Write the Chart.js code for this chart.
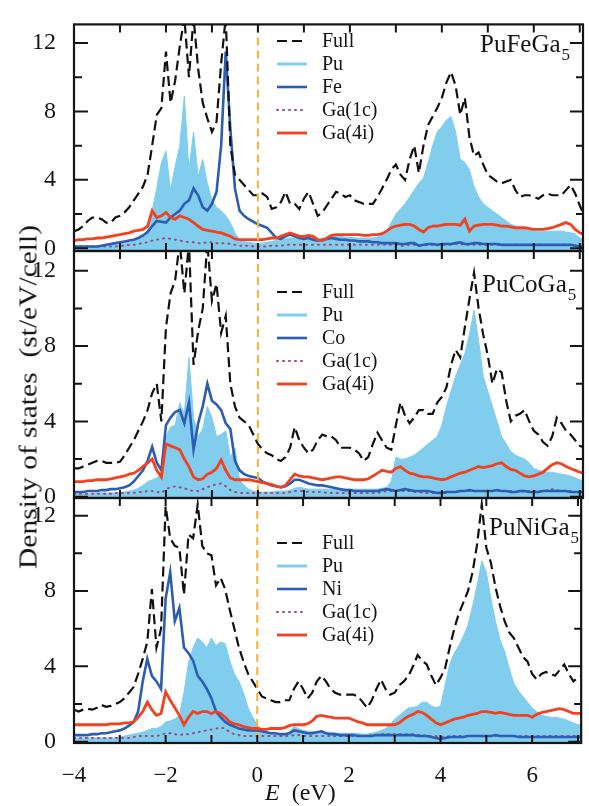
<!DOCTYPE html>
<html>
<head>
<meta charset="utf-8">
<script src="https://cdn.jsdelivr.net/npm/chart.js@4.4.0/dist/chart.umd.min.js"></script>
<style>
  html, body { margin: 0; padding: 0; background: #fff; }
  #wrap { position: relative; width: 589px; height: 806px; overflow: hidden; }
  canvas { position: absolute; left: 0; top: 0; }
  .lbl { position: absolute; font-family: "Liberation Serif", serif; color: #151515; white-space: pre; line-height: 1; }
  #ytitle { left: 28px; top: 397px; font-size: 25px; transform: translate(-50%, -50%) rotate(-90deg) scale(1.18, 1); }
  #xtitle { left: 265px; top: 780px; font-size: 24px; line-height: 24px; }
</style>
</head>
<body>
<div id="wrap">
  <canvas id="cFe" width="589" height="806"></canvas>
  <canvas id="cCo" width="589" height="806"></canvas>
  <canvas id="cNi" width="589" height="806"></canvas>
  <div class="lbl" id="ytitle">Density of states  (st/eV/cell)</div>
  <div class="lbl" id="xtitle"><i>E</i>  (eV)</div>
</div>
<script>
// energy grid (eV)
const energy = [
  -4.0, -3.9, -3.8, -3.7, -3.6, -3.5, -3.4, -3.3, -3.2, -3.1,
  -3.0, -2.9, -2.8, -2.7, -2.6, -2.5, -2.4, -2.3, -2.2, -2.1,
  -2.0, -1.9, -1.8, -1.7, -1.6, -1.5, -1.4, -1.3, -1.2, -1.1,
  -1.0, -0.9, -0.8, -0.7, -0.6, -0.5, -0.4, -0.3, -0.2, -0.1,
  0.0, 0.1, 0.2, 0.3, 0.4, 0.5, 0.6, 0.7, 0.8, 0.9,
  1.0, 1.1, 1.2, 1.3, 1.4, 1.5, 1.6, 1.7, 1.8, 1.9,
  2.0, 2.1, 2.2, 2.3, 2.4, 2.5, 2.6, 2.7, 2.8, 2.9,
  3.0, 3.1, 3.2, 3.3, 3.4, 3.5, 3.6, 3.7, 3.8, 3.9,
  4.0, 4.1, 4.2, 4.3, 4.4, 4.5, 4.6, 4.7, 4.8, 4.9,
  5.0, 5.1, 5.2, 5.3, 5.4, 5.5, 5.6, 5.7, 5.8, 5.9,
  6.0, 6.1, 6.2, 6.3, 6.4, 6.5, 6.6, 6.7, 6.8, 6.9,
  7.0, 7.1
];

// PuFeGa5
const feFull = [
  1.0, 1.1, 1.3, 1.6, 1.8, 1.8, 1.7, 1.5, 1.5, 1.8,
  1.9, 2.1, 2.4, 2.8, 3.2, 3.6, 4.3, 6.0, 7.8, 8.2,
  11.5, 8.5, 9.8, 11.8, 13.5, 10.0, 13.5, 10.5, 8.5, 7.6,
  6.8, 7.4, 10.8, 13.5, 6.0, 4.3, 4.0, 3.7, 3.4, 3.1,
  3.1, 3.2, 3.0, 2.3, 2.4, 2.7, 3.3, 2.6, 2.6, 2.3,
  2.9, 3.3, 2.6, 1.9, 2.1, 2.5, 2.9, 3.3, 3.2, 3.0,
  3.1, 2.8, 2.7, 2.6, 2.6, 2.6, 3.0, 3.5, 4.0, 4.6,
  4.9, 4.3, 4.0, 5.2, 6.0, 4.4, 6.0, 7.2, 7.7, 8.2,
  8.8, 9.7, 10.3, 9.5, 7.8, 8.8, 6.5, 5.4, 5.6, 4.9,
  4.3, 4.1, 3.9, 3.8, 3.9, 4.0, 3.4, 3.0, 3.1, 3.1,
  3.0, 2.9, 3.1, 3.2, 3.1, 3.1, 3.1, 3.4, 3.7, 3.2,
  2.5, 1.9
];
const fePu = [
  0.1, 0.1, 0.1, 0.1, 0.1, 0.1, 0.15, 0.15, 0.2, 0.2,
  0.25, 0.3, 0.35, 0.4, 0.5, 0.7, 1.0, 2.2, 3.5, 5.0,
  5.7, 3.4, 4.8, 6.0, 8.9, 4.6, 6.8, 4.2, 5.2, 3.8,
  2.8, 2.4, 2.2, 1.9, 1.5, 0.9, 0.5, 0.4, 0.35, 0.3,
  0.3, 0.3, 0.35, 0.4, 0.45, 0.5, 0.55, 0.6, 0.6, 0.65,
  0.7, 0.7, 0.65, 0.5, 0.55, 0.6, 0.65, 0.7, 0.7, 0.65,
  0.65, 0.6, 0.6, 0.6, 0.6, 0.6, 0.65, 0.8, 1.0, 1.5,
  2.0, 2.3, 2.6, 3.0, 3.4, 3.8, 4.1, 5.0, 6.0, 6.8,
  7.1, 7.5, 7.7, 6.8, 5.2, 5.0, 4.6, 3.6, 3.0, 2.6,
  2.4, 2.2, 2.0, 1.8, 1.6, 1.4, 1.3, 1.2, 1.2, 1.1,
  1.0, 1.0, 1.0, 1.0, 1.0, 1.0, 1.0, 0.95, 0.9, 0.85,
  0.6, 0.5
];
const feFe = [
  0.1, 0.1, 0.1, 0.1, 0.1, 0.1, 0.15, 0.2, 0.25, 0.3,
  0.35, 0.4, 0.45, 0.5, 0.6, 0.75, 0.95, 1.3, 1.6, 1.55,
  1.5, 1.8, 2.0, 2.2, 2.6, 2.8, 3.5, 3.1, 2.4, 2.2,
  2.6, 3.3, 6.0, 11.5, 7.0, 3.5, 2.2, 1.9, 1.7, 1.55,
  1.4, 1.3, 1.2, 0.9, 0.6, 0.55, 0.7, 0.8, 0.7, 0.6,
  0.55, 0.6, 0.5, 0.45, 0.5, 0.55, 0.6, 0.55, 0.5, 0.5,
  0.45, 0.45, 0.4, 0.4, 0.4, 0.35, 0.35, 0.3, 0.3, 0.3,
  0.3, 0.25, 0.25, 0.3, 0.3, 0.15, 0.2, 0.25, 0.25, 0.2,
  0.25, 0.25, 0.25, 0.3, 0.35, 0.25, 0.25, 0.3, 0.3, 0.25,
  0.25, 0.25, 0.25, 0.2, 0.2, 0.2, 0.2, 0.2, 0.2, 0.2,
  0.2, 0.2, 0.2, 0.2, 0.2, 0.2, 0.2, 0.2, 0.2, 0.15,
  0.1, 0.1
];
const feGa1c = [
  0.1, 0.1, 0.1, 0.1, 0.1, 0.1, 0.1, 0.1, 0.1, 0.1,
  0.15, 0.15, 0.2, 0.2, 0.25, 0.3, 0.35, 0.45, 0.5, 0.55,
  0.6, 0.55, 0.5, 0.45, 0.4, 0.35, 0.35, 0.3, 0.3, 0.35,
  0.35, 0.3, 0.3, 0.3, 0.25, 0.2, 0.15, 0.15, 0.15, 0.1,
  0.1, 0.1, 0.1, 0.15, 0.15, 0.15, 0.2, 0.2, 0.2, 0.2,
  0.2, 0.2, 0.2, 0.2, 0.2, 0.2, 0.2, 0.2, 0.2, 0.2,
  0.2, 0.2, 0.2, 0.2, 0.2, 0.2, 0.2, 0.2, 0.2, 0.2,
  0.2, 0.15, 0.15, 0.2, 0.2, 0.15, 0.15, 0.2, 0.2, 0.2,
  0.2, 0.2, 0.2, 0.25, 0.25, 0.2, 0.2, 0.2, 0.2, 0.2,
  0.2, 0.2, 0.2, 0.2, 0.2, 0.2, 0.2, 0.2, 0.2, 0.2,
  0.2, 0.2, 0.2, 0.2, 0.2, 0.2, 0.2, 0.2, 0.2, 0.15,
  0.1, 0.1
];
const feGa4i = [
  0.45, 0.5, 0.5, 0.55, 0.55, 0.6, 0.6, 0.65, 0.7, 0.75,
  0.8, 0.85, 0.9, 1.0, 1.05, 1.1, 1.3, 2.2, 1.8, 1.9,
  2.1, 1.8, 1.7, 1.9, 1.8, 1.7, 1.5, 1.3, 1.1, 1.05,
  1.0, 0.95, 0.9, 0.8, 0.7, 0.55, 0.5, 0.5, 0.5, 0.5,
  0.5, 0.5, 0.55, 0.6, 0.6, 0.7, 0.8, 0.9, 0.8, 0.7,
  0.7, 0.75, 0.7, 0.5, 0.45, 0.6, 0.75, 0.8, 0.8, 0.8,
  0.8, 0.8, 0.8, 0.75, 0.75, 0.8, 0.8, 0.85, 1.0, 1.2,
  1.3, 1.35, 1.4, 1.4, 1.3, 1.1, 0.95, 1.2, 1.3, 1.3,
  1.35, 1.4, 1.4, 1.4, 1.35, 1.7, 1.0, 1.3, 1.35, 1.4,
  1.4, 1.4, 1.35, 1.3, 1.3, 1.25, 1.2, 1.2, 1.2, 1.15,
  1.1, 1.1, 1.1, 1.15, 1.2, 1.3, 1.4, 1.5, 1.4, 1.1,
  0.9, 0.8
];

// PuCoGa5
const coFull = [
  1.5, 1.5, 1.6, 1.7, 1.8, 1.9, 1.9, 1.8, 1.8, 1.8,
  1.85, 2.2, 2.6, 3.0, 3.5, 4.0, 4.6, 5.5, 6.0, 4.0,
  9.0, 10.8, 11.5, 13.5, 10.8, 13.5, 7.0, 8.8, 10.0, 13.5,
  10.4, 11.3, 8.7, 9.6, 6.0, 4.8, 4.2, 4.0, 3.8, 3.3,
  2.8, 2.5, 2.3, 2.2, 2.0, 1.9, 2.1, 2.6, 3.7, 3.0,
  2.6, 2.3, 2.5, 3.0, 3.3, 3.2, 3.2, 3.0, 2.6, 2.6,
  2.6, 2.5, 2.3, 1.9, 2.1, 2.8, 3.4, 3.0, 2.6, 2.5,
  3.8, 5.0, 4.3, 3.9, 4.2, 4.6, 4.6, 4.4, 4.4, 5.0,
  5.3, 5.8, 7.0, 7.8, 7.4, 9.0, 10.5, 11.9, 10.0, 8.6,
  7.5, 6.0, 6.8, 6.6, 5.1, 4.0, 4.3, 4.4, 4.6, 4.0,
  3.5, 3.3, 2.9, 2.7, 3.2, 4.2, 3.9, 3.5, 3.3, 3.0,
  2.7, 2.6
];
const coPu = [
  0.15, 0.15, 0.15, 0.15, 0.15, 0.2, 0.2, 0.2, 0.2, 0.2,
  0.2, 0.25, 0.3, 0.35, 0.45, 0.6, 0.8, 0.9, 1.0, 1.2,
  3.2, 3.7, 3.8, 5.0, 4.4, 7.4, 4.2, 3.2, 3.6, 4.8,
  4.2, 3.2, 3.3, 3.5, 2.1, 2.6, 0.9, 0.6, 0.4, 0.3,
  0.25, 0.25, 0.25, 0.25, 0.3, 0.3, 0.3, 0.35, 0.45, 0.5,
  0.45, 0.4, 0.4, 0.4, 0.4, 0.4, 0.4, 0.4, 0.4, 0.4,
  0.4, 0.4, 0.4, 0.4, 0.4, 0.4, 0.4, 0.45, 0.5, 0.8,
  2.1, 2.0, 2.0, 2.1, 2.2, 2.4, 2.6, 2.8, 3.0, 3.2,
  3.8, 4.8, 5.6, 6.4, 7.0, 7.6, 8.6, 9.9, 8.3, 6.4,
  5.6, 4.8, 4.0, 3.2, 2.8, 2.4, 2.2, 2.1, 2.0, 1.8,
  1.5, 1.4, 1.35, 1.3, 1.3, 1.25, 1.2, 1.15, 1.1, 1.0,
  0.9, 0.8
];
const coCo = [
  0.25, 0.25, 0.25, 0.3, 0.3, 0.3, 0.35, 0.35, 0.4, 0.4,
  0.45, 0.5, 0.6, 0.8, 1.1, 1.4, 1.9, 2.65, 1.8, 1.4,
  3.8, 4.2, 4.5, 4.6, 3.9, 5.0, 2.5, 3.9, 4.8, 6.0,
  5.1, 4.9, 4.6, 3.9, 3.6, 1.9, 1.4, 1.2, 1.1, 1.05,
  1.0, 0.8, 0.7, 0.6, 0.55, 0.5, 0.55, 0.7, 0.9, 0.9,
  0.8, 0.7, 0.65, 0.6, 0.6, 0.55, 0.5, 0.45, 0.4, 0.35,
  0.35, 0.3, 0.3, 0.3, 0.3, 0.3, 0.3, 0.35, 0.4, 0.35,
  0.3, 0.35, 0.4, 0.35, 0.3, 0.3, 0.3, 0.3, 0.25, 0.2,
  0.2, 0.25, 0.25, 0.25, 0.3, 0.3, 0.35, 0.3, 0.3, 0.3,
  0.3, 0.3, 0.35, 0.3, 0.3, 0.25, 0.25, 0.3, 0.3, 0.25,
  0.25, 0.25, 0.3, 0.3, 0.3, 0.3, 0.3, 0.3, 0.25, 0.25,
  0.25, 0.25
];
const coGa1c = [
  0.15, 0.15, 0.15, 0.15, 0.15, 0.15, 0.15, 0.15, 0.15, 0.2,
  0.2, 0.2, 0.2, 0.2, 0.25, 0.25, 0.3, 0.3, 0.25, 0.2,
  0.4, 0.5, 0.55, 0.5, 0.45, 0.35, 0.3, 0.3, 0.4, 0.5,
  0.6, 0.65, 0.7, 0.55, 0.35, 0.25, 0.2, 0.2, 0.2, 0.2,
  0.2, 0.2, 0.2, 0.2, 0.2, 0.2, 0.2, 0.25, 0.3, 0.3,
  0.3, 0.25, 0.25, 0.25, 0.25, 0.2, 0.2, 0.2, 0.2, 0.2,
  0.2, 0.2, 0.2, 0.2, 0.2, 0.2, 0.2, 0.25, 0.3, 0.3,
  0.3, 0.3, 0.3, 0.3, 0.25, 0.25, 0.2, 0.2, 0.2, 0.2,
  0.2, 0.2, 0.25, 0.25, 0.3, 0.3, 0.3, 0.3, 0.3, 0.3,
  0.3, 0.3, 0.3, 0.3, 0.3, 0.3, 0.25, 0.25, 0.3, 0.3,
  0.3, 0.3, 0.3, 0.35, 0.4, 0.35, 0.3, 0.3, 0.3, 0.25,
  0.25, 0.25
];
const coGa4i = [
  0.8, 0.8, 0.8, 0.85, 0.85, 0.9, 0.9, 0.9, 0.95, 1.0,
  1.05, 1.1, 1.2, 1.25, 1.4, 1.6, 1.8, 2.0, 1.4, 1.05,
  2.8, 2.7, 2.6, 2.5, 2.0, 1.6, 1.05, 0.9, 0.95, 1.2,
  1.3, 1.5, 1.95, 1.4, 1.0, 0.9, 0.9, 0.9, 0.9, 0.85,
  0.8, 0.75, 0.7, 0.65, 0.55, 0.5, 0.6, 0.9, 1.2, 1.1,
  1.05, 1.05, 1.0, 0.95, 0.9, 0.95, 1.0, 1.05, 1.05, 1.0,
  0.95, 0.9, 0.9, 0.9, 0.95, 1.1, 1.25, 1.4, 1.35, 1.3,
  1.5, 1.6, 1.4, 1.25, 1.2, 1.1, 1.05, 1.05, 1.0, 0.95,
  0.9, 0.95, 1.05, 1.15, 1.25, 1.3, 1.4, 1.5, 1.6, 1.55,
  1.6, 1.65, 1.75, 1.8, 1.6, 1.45, 1.4, 1.25, 1.1, 1.05,
  1.1, 1.2, 1.3, 1.5, 1.7, 1.8, 1.75, 1.6, 1.5, 1.4,
  1.3, 1.25
];

// PuNiGa5
const niFull = [
  1.7, 1.6, 1.7, 1.75, 1.7, 1.8, 1.95, 1.85, 1.9, 2.0,
  2.1, 2.3, 2.6, 2.9, 3.6, 4.4, 5.3, 8.1, 5.0, 6.0,
  12.5, 10.8, 10.4, 10.3, 7.8, 11.0, 10.8, 12.6, 10.4, 10.0,
  9.9, 8.3, 8.7, 8.1, 7.0, 6.0, 5.0, 4.25, 3.6, 3.2,
  2.8, 2.4, 2.3, 2.2, 2.1, 2.1, 2.2, 2.2, 2.8, 3.2,
  2.8, 2.3, 2.6, 3.2, 3.5, 3.2, 2.8, 2.6, 2.5, 2.5,
  2.5, 2.5, 2.4, 2.1, 1.8, 2.2, 2.8, 3.3, 2.8, 2.5,
  2.6, 3.0, 3.2, 3.5, 4.0, 4.6, 4.3, 4.1, 3.5, 3.0,
  3.4, 3.9, 5.0, 6.0, 6.8, 7.4, 8.0, 9.0, 10.5, 12.6,
  10.3, 9.5, 8.2, 7.2, 6.4, 5.8, 5.5, 5.0, 4.5, 4.25,
  3.6, 3.3, 3.6, 3.7, 3.6, 3.5, 3.8, 4.1, 3.6, 3.2,
  3.4, 3.5
];
const niPu = [
  0.2, 0.2, 0.2, 0.2, 0.2, 0.2, 0.2, 0.2, 0.2, 0.2,
  0.25, 0.3, 0.35, 0.4, 0.45, 0.5, 0.6, 0.7, 0.7, 0.8,
  1.05, 1.1, 1.2, 1.4, 2.6, 4.2, 5.0, 5.5, 5.3, 5.0,
  5.5, 5.1, 5.3, 5.2, 4.3, 3.6, 3.2, 2.6, 1.8, 1.3,
  0.9, 0.6, 0.5, 0.45, 0.4, 0.4, 0.4, 0.5, 0.8, 0.7,
  0.6, 0.55, 0.55, 0.5, 0.55, 0.5, 0.5, 0.45, 0.45, 0.45,
  0.45, 0.45, 0.45, 0.4, 0.4, 0.45, 0.5, 0.6, 0.7, 0.9,
  1.2, 1.4, 1.6, 1.8, 1.8, 1.9, 2.1, 2.1, 1.9, 1.8,
  1.9, 3.0, 4.1, 4.7, 5.1, 5.6, 6.2, 7.2, 8.3, 9.6,
  9.0, 7.6, 6.4, 5.4, 4.8, 3.9, 3.1, 2.7, 2.4, 2.1,
  1.8, 1.6, 1.4, 1.35, 1.3, 1.3, 1.25, 1.2, 1.1, 1.0,
  0.9, 0.9
];
const niNi = [
  0.35, 0.35, 0.35, 0.35, 0.4, 0.4, 0.45, 0.45, 0.5, 0.55,
  0.6, 0.7, 0.85, 1.05, 1.6, 3.2, 4.4, 3.5, 3.2, 2.8,
  7.6, 9.0, 6.4, 7.1, 5.0, 4.7, 4.3, 3.5, 3.2, 2.8,
  2.3, 1.6, 1.3, 1.05, 0.9, 0.8, 0.7, 0.65, 0.6, 0.6,
  0.6, 0.55, 0.5, 0.45, 0.45, 0.4, 0.4, 0.45, 0.6, 0.55,
  0.5, 0.45, 0.45, 0.5, 0.55, 0.45, 0.4, 0.4, 0.35, 0.35,
  0.35, 0.35, 0.3, 0.3, 0.3, 0.3, 0.35, 0.35, 0.35, 0.35,
  0.35, 0.35, 0.35, 0.35, 0.35, 0.3, 0.3, 0.3, 0.25, 0.2,
  0.15, 0.2, 0.25, 0.25, 0.25, 0.25, 0.3, 0.3, 0.3, 0.3,
  0.3, 0.3, 0.35, 0.3, 0.3, 0.3, 0.3, 0.25, 0.25, 0.25,
  0.25, 0.25, 0.25, 0.25, 0.25, 0.25, 0.25, 0.25, 0.25, 0.25,
  0.25, 0.25
];
const niGa1c = [
  0.2, 0.2, 0.2, 0.2, 0.2, 0.2, 0.2, 0.2, 0.2, 0.2,
  0.2, 0.2, 0.2, 0.25, 0.3, 0.3, 0.3, 0.3, 0.3, 0.35,
  0.45, 0.45, 0.4, 0.35, 0.4, 0.4, 0.45, 0.5, 0.55, 0.6,
  0.65, 0.7, 0.75, 0.7, 0.5, 0.4, 0.35, 0.3, 0.3, 0.3,
  0.3, 0.3, 0.3, 0.3, 0.3, 0.3, 0.3, 0.3, 0.35, 0.35,
  0.3, 0.3, 0.3, 0.3, 0.3, 0.3, 0.3, 0.3, 0.3, 0.3,
  0.3, 0.3, 0.3, 0.3, 0.3, 0.35, 0.35, 0.4, 0.4, 0.4,
  0.4, 0.4, 0.4, 0.4, 0.4, 0.35, 0.35, 0.3, 0.3, 0.3,
  0.25, 0.25, 0.3, 0.3, 0.3, 0.3, 0.3, 0.3, 0.3, 0.3,
  0.3, 0.3, 0.3, 0.3, 0.3, 0.3, 0.3, 0.3, 0.3, 0.3,
  0.3, 0.3, 0.3, 0.3, 0.3, 0.3, 0.3, 0.3, 0.3, 0.3,
  0.3, 0.3
];
const niGa4i = [
  0.9, 0.9, 0.9, 0.9, 0.9, 0.9, 0.9, 0.9, 0.95, 0.95,
  0.95, 1.0, 1.0, 1.05, 1.3, 1.6, 2.1, 1.7, 1.4, 1.5,
  2.65, 2.2, 1.8, 1.4, 0.9, 1.3, 1.6, 1.5, 1.6, 1.6,
  1.5, 1.6, 1.5, 1.3, 1.05, 0.95, 0.9, 0.8, 0.75, 0.7,
  0.7, 0.65, 0.65, 0.7, 0.7, 0.7, 0.75, 0.85, 0.9, 0.9,
  0.9, 0.95, 1.1, 1.35, 1.4, 1.35, 1.3, 1.25, 1.25, 1.25,
  1.25, 1.15, 1.05, 1.0, 0.9, 0.9, 0.9, 0.9, 0.9, 0.9,
  0.9, 1.0, 1.2, 1.35, 1.45, 1.6, 1.55, 1.4, 1.2, 1.0,
  0.9, 1.0, 1.1, 1.2, 1.25, 1.3, 1.4, 1.45, 1.5, 1.6,
  1.6, 1.55, 1.5, 1.55, 1.5, 1.45, 1.4, 1.4, 1.4, 1.4,
  1.3, 1.45, 1.55, 1.6, 1.65, 1.7, 1.75, 1.7, 1.6, 1.5,
  1.5, 1.5
];

const xTicks = [-4, -3, -2, -1, 0, 1, 2, 3, 4, 5, 6, 7];
const yTicks = [0, 2, 4, 6, 8, 10, 12];

const panels = [
  { id: "cFe", metal: "Fe", name: ["PuFeGa", "5"], top: 7, bottom: 251, yMin: -0.16, yMax: 13.09,
    series: [feFull, fePu, feFe, feGa1c, feGa4i], legendY: 41, titleX: 480, titleY: 52, xLabels: false },
  { id: "cCo", metal: "Co", name: ["PuCoGa", "5"], top: 251, bottom: 498, yMin: -0.07, yMax: 13.05,
    series: [coFull, coPu, coCo, coGa1c, coGa4i], legendY: 292, titleX: 482, titleY: 292, xLabels: false },
  { id: "cNi", metal: "Ni", name: ["PuNiGa", "5"], top: 498, bottom: 743, yMin: -0.07, yMax: 12.94,
    series: [niFull, niPu, niNi, niGa1c, niGa4i], legendY: 543, titleX: 489, titleY: 535, xLabels: true }
];

const SERIF = "Liberation Serif";
const INK = "#151515";

function minus(v) {
  return v < 0 ? "\u2212" + (-v) : String(v);
}

// frame, inward ticks, Fermi level, legend and compound name
function decorPlugin(p) {
  return {
    id: "decor",
    afterDatasetsDraw(chart) {
      const { ctx, chartArea: a, scales } = chart;
      const x = scales.x, y = scales.y;
      ctx.save();

      const xf = x.getPixelForValue(0);
      ctx.strokeStyle = "#f6b23c";
      ctx.lineWidth = 2;
      ctx.setLineDash([8, 5]);
      ctx.beginPath();
      ctx.moveTo(xf, a.top);
      ctx.lineTo(xf, a.bottom);
      ctx.stroke();
      ctx.setLineDash([]);

      ctx.strokeStyle = INK;
      ctx.lineWidth = 2.2;
      ctx.strokeRect(a.left, a.top, a.right - a.left, a.bottom - a.top);

      ctx.lineWidth = 2;
      ctx.beginPath();
      yTicks.forEach(v => {
        const py = y.getPixelForValue(v);
        const major = v % 4 === 0;
        ctx.moveTo(a.left, py);
        ctx.lineTo(a.left + (major ? 14 : 8), py);
        ctx.moveTo(a.right, py);
        ctx.lineTo(a.right - (major ? 13 : 7), py);
      });
      xTicks.forEach(v => {
        const px = x.getPixelForValue(v);
        if (px <= a.left + 1 || px >= a.right - 1) return;
        ctx.moveTo(px, a.top);
        ctx.lineTo(px, a.top + 8);
        ctx.moveTo(px, a.bottom);
        ctx.lineTo(px, a.bottom - 8);
      });
      ctx.stroke();

      // legend
      ctx.font = "20px '" + SERIF + "'";
      ctx.textBaseline = "middle";
      ctx.fillStyle = INK;
      chart.data.datasets.forEach((ds, i) => {
        const ly = p.legendY + i * 23;
        ctx.strokeStyle = ds.borderColor;
        ctx.lineWidth = ds.label === "Pu" ? 3 : ds.borderWidth;
        ctx.lineCap = ds.borderCapStyle || "butt";
        ctx.setLineDash(ds.borderDash || []);
        ctx.beginPath();
        ctx.moveTo(277, ly);
        ctx.lineTo(307, ly);
        ctx.stroke();
        ctx.setLineDash([]);
        ctx.fillText(ds.label, 322, ly + 1);
      });

      // compound name with subscript
      ctx.textBaseline = "alphabetic";
      ctx.font = "25px '" + SERIF + "'";
      ctx.fillText(p.name[0], p.titleX, p.titleY);
      const w = ctx.measureText(p.name[0]).width;
      ctx.font = "17px '" + SERIF + "'";
      ctx.fillText(p.name[1], p.titleX + w + 1, p.titleY + 8);

      ctx.restore();
    }
  };
}

function makeChart(p) {
  const [full, pu, metal, ga1c, ga4i] = p.series;
  const pts = arr => energy.map((e, i) => ({ x: e, y: arr[i] }));
  const xHeight = p.xLabels ? 63 : 0;

  return new Chart(document.getElementById(p.id), {
    type: "line",
    data: {
      datasets: [
        { label: "Full", data: pts(full), borderColor: "#111111", borderWidth: 2.2, borderDash: [10, 5], order: 0 },
        { label: "Pu", data: pts(pu), borderColor: "#80cdee", backgroundColor: "#80cdee", borderWidth: 1, fill: "start", order: 4 },
        { label: p.metal, data: pts(metal), borderColor: "#2c5db5", borderWidth: 2.6, order: 2 },
        { label: "Ga(1c)", data: pts(ga1c), borderColor: "#a2487e", borderWidth: 2, borderDash: [1, 5], borderCapStyle: "round", order: 3 },
        { label: "Ga(4i)", data: pts(ga4i), borderColor: "#f2411f", borderWidth: 2.8, order: 1 }
      ]
    },
    options: {
      responsive: false,
      animation: false,
      devicePixelRatio: 1,
      elements: { point: { radius: 0 }, line: { tension: 0 } },
      layout: { padding: { top: p.top, bottom: 806 - p.bottom - xHeight, left: 0, right: 6 } },
      plugins: { legend: { display: false }, tooltip: { enabled: false } },
      scales: {
        x: {
          type: "linear",
          min: -4,
          max: 7.07,
          afterFit: s => { s.height = xHeight; },
          afterBuildTicks: s => { s.ticks = xTicks.map(v => ({ value: v })); },
          grid: { display: false },
          border: { display: false },
          ticks: {
            display: p.xLabels,
            padding: 11,
            maxRotation: 0,
            autoSkip: false,
            color: INK,
            font: { family: SERIF, size: 23 },
            callback: v => (v % 2 === 0 ? minus(v) : "")
          }
        },
        y: {
          min: p.yMin,
          max: p.yMax,
          afterFit: s => { s.width = 74; },
          afterBuildTicks: s => { s.ticks = yTicks.map(v => ({ value: v })); },
          grid: { display: false },
          border: { display: false },
          ticks: {
            padding: 10,
            autoSkip: false,
            color: INK,
            font: { family: SERIF, size: 24 },
            callback: v => (v % 4 === 0 ? String(v) : "")
          }
        }
      }
    },
    plugins: [decorPlugin(p)]
  });
}

panels.forEach(makeChart);
</script>
</body>
</html>
